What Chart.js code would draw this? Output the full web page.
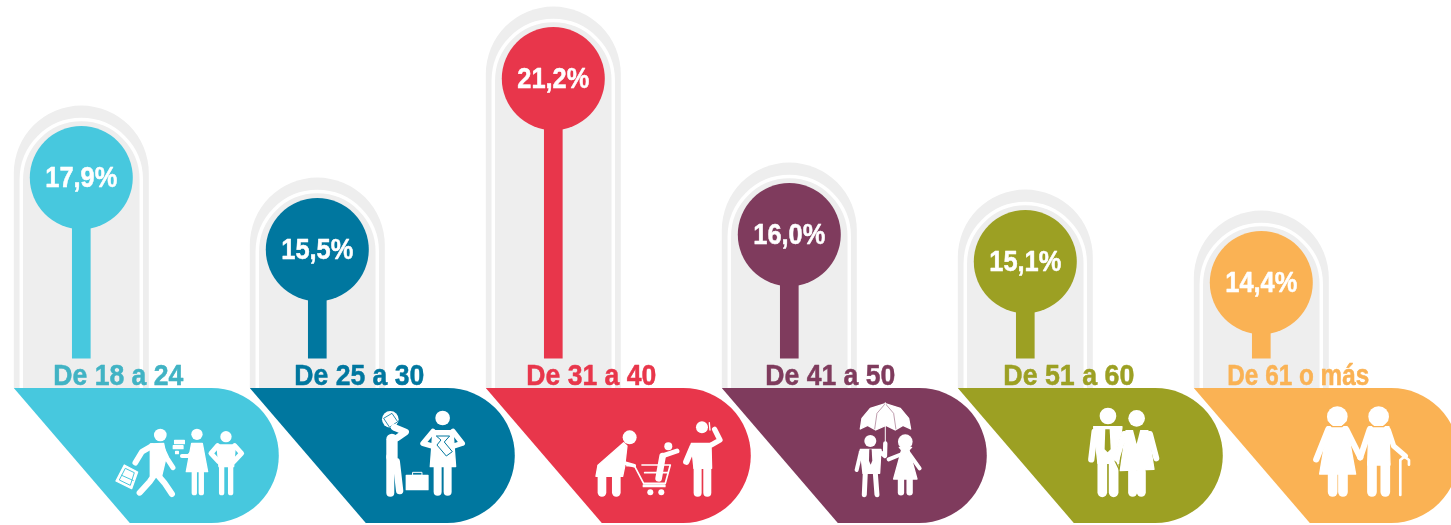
<!DOCTYPE html>
<html>
<head>
<meta charset="utf-8">
<style>
  html, body { margin: 0; padding: 0; background: #fff; }
  canvas { display: block; }
</style>
<script src="https://cdn.jsdelivr.net/npm/chart.js@4/dist/chart.umd.min.js"></script>
</head>
<body>
<canvas id="edades" width="1451" height="525"></canvas>
<script>
const categories = ['De 18 a 24', 'De 25 a 30', 'De 31 a 40', 'De 41 a 50', 'De 51 a 60', 'De 61 o más'];
const values = [17.9, 15.5, 21.2, 16.0, 15.1, 14.4];
const colors = ['#47c8de', '#00779f', '#e8364b', '#7f3b5d', '#9ca023', '#fab254'];
const labelColors = ['#41b3c4', '#00779f', '#e8364b', '#7f3b5d', '#9ca023', '#fab254'];

// layout of the decorations around each lollipop
const labelShift = [37, 42, 38, 41, 43.5, 37];
const labelWidth = [130, 130, 130, 130, 131, 142];
const iconShift = [-81, -67, -68, -69, -70, -71];
const stemBase = 11.88;
const bandTop = 388;
const bandBottom = 523;

// icon helpers, coordinates are in 3x units
function painter(ctx, bg) {
    const trace = (pts) => {
        ctx.beginPath();
        pts.forEach((p, i) => i ? ctx.lineTo(p[0], p[1]) : ctx.moveTo(p[0], p[1]));
    };
    return {
        head(x, y, r) {
            ctx.fillStyle = '#fff';
            ctx.beginPath();
            ctx.arc(x, y, r, 0, Math.PI * 2);
            ctx.fill();
        },
        limb(w, ...pts) {
            ctx.strokeStyle = '#fff';
            ctx.lineWidth = w;
            ctx.lineCap = 'round';
            ctx.lineJoin = 'round';
            trace(pts);
            ctx.stroke();
        },
        shape(...pts) {
            ctx.fillStyle = '#fff';
            ctx.strokeStyle = '#fff';
            ctx.lineWidth = 4;
            ctx.lineJoin = 'round';
            trace(pts);
            ctx.closePath();
            ctx.fill();
            ctx.stroke();
        },
        cut(...pts) {
            ctx.fillStyle = bg;
            trace(pts);
            ctx.closePath();
            ctx.fill();
        },
        line(w, ...pts) {
            ctx.strokeStyle = bg;
            ctx.lineWidth = w;
            ctx.lineCap = 'butt';
            ctx.lineJoin = 'miter';
            trace(pts);
            ctx.stroke();
        }
    };
}

const icons = [
    function (d, ctx) {
        // walker with backpack, woman with books, young man
        d.head(480, 255, 19);
        d.shape([450, 282], [490, 280], [498, 320], [484, 378], [450, 378]);
        d.limb(17, [455, 288], [425, 305], [405, 338]);
        d.limb(15, [486, 295], [500, 325], [518, 353]);
        d.limb(18, [462, 375], [448, 395], [418, 428]);
        d.limb(18, [472, 375], [492, 398], [515, 432]);
        d.shape([347, 393], [372, 345], [412, 366], [394, 416]);
        d.line(3, [357, 390], [375, 355], [402, 368], [390, 406], [357, 390]);
        d.line(3, [362, 375], [400, 392]);
        d.head(590, 253, 17);
        d.shape([574, 280], [606, 280], [622, 365], [558, 365]);
        d.limb(12, [578, 305], [565, 318], [545, 318]);
        d.limb(16, [582, 368], [582, 428]);
        d.limb(16, [603, 368], [603, 428]);
        d.shape([523, 271], [552, 271], [552, 281], [523, 281]);
        d.shape([519, 287], [548, 287], [548, 296], [519, 296]);
        d.shape([526, 304], [534, 304], [534, 311], [526, 311]);
        d.head(677, 260, 17);
        d.shape([650, 285], [705, 285], [700, 350], [656, 350]);
        d.limb(15, [652, 287], [632, 310], [655, 335]);
        d.limb(15, [703, 287], [724, 310], [700, 335]);
        d.limb(16, [664, 345], [664, 428]);
        d.limb(16, [691, 345], [691, 428]);
    },
    function (d, ctx) {
        // man with phone and suitcase, woman reading papers
        d.head(420, 208, 25);
        d.line(2.5, [400, 205], [425, 190], [442, 215], [418, 232], [400, 205]);
        d.limb(20, [432, 232], [466, 246], [440, 264]);
        d.limb(34, [425, 268], [425, 322]);
        d.limb(24, [420, 320], [420, 428]);
        d.limb(22, [438, 335], [448, 422]);
        d.shape([468, 376], [533, 376], [533, 419], [468, 419]);
        ctx.strokeStyle = '#fff';
        ctx.lineWidth = 3;
        ctx.strokeRect(488, 367, 27, 9);
        d.head(577, 204, 22);
        d.shape([548, 242], [608, 242], [616, 350], [540, 350]);
        d.limb(16, [548, 244], [518, 280], [570, 295]);
        d.limb(16, [608, 244], [636, 280], [590, 295]);
        d.limb(24, [562, 350], [562, 425]);
        d.limb(24, [592, 350], [592, 425]);
        d.line(3, [558, 258], [598, 258], [582, 276], [606, 305], [588, 318], [560, 285], [572, 270], [558, 258]);
    },
    function (d, ctx) {
        // woman pushing a cart with a child, man on the phone
        d.head(433, 262, 21);
        d.shape([415, 278], [425, 288], [418, 350], [412, 379], [332, 379], [338, 346], [356, 330]);
        d.limb(11, [418, 300], [405, 335], [447, 347]);
        d.limb(26, [350, 378], [350, 427]);
        d.limb(26, [393, 378], [393, 427]);
        d.limb(5, [425, 347], [447, 347], [475, 400], [540, 400], [555, 345], [470, 345]);
        d.limb(5, [478, 368], [548, 368]);
        d.shape([474, 405], [539, 405], [539, 410], [474, 410]);
        d.head(495, 427, 9);
        d.head(528, 427, 9);
        d.head(549, 289, 12);
        d.limb(20, [532, 318], [520, 385]);
        d.limb(15, [536, 316], [575, 303]);
        d.head(650, 232, 18);
        d.shape([618, 280], [677, 280], [679, 355], [626, 355]);
        d.limb(19, [622, 290], [603, 335]);
        d.limb(16, [678, 285], [704, 270], [688, 238]);
        d.limb(4, [672, 218], [674, 240]);
        d.limb(24, [637, 350], [637, 428]);
        d.limb(24, [666, 350], [666, 428]);
    },
    function (d, ctx) {
        // couple under an umbrella
        d.shape([420, 237], [425, 205], [450, 175], [495, 161], [540, 175], [565, 205], [571, 237], [548, 226], [525, 240], [497, 226], [466, 240], [442, 226]);
        d.line(1.5, [495, 161], [470, 190], [463, 238]);
        d.line(1.5, [495, 161], [520, 190], [527, 238]);
        d.limb(3, [495, 158], [495, 275]);
        d.head(450, 273, 18);
        d.shape([420, 298], [482, 298], [478, 370], [428, 370]);
        d.limb(12, [422, 305], [409, 360]);
        d.limb(13, [478, 305], [494, 318], [495, 280]);
        d.limb(15, [435, 368], [432, 434]);
        d.limb(15, [465, 368], [470, 434]);
        d.cut([447, 298], [454, 298], [456, 332], [451, 344], [446, 332]);
        d.head(555, 275, 22);
        d.shape([537, 292], [574, 292], [566, 300], [590, 387], [520, 387], [544, 300]);
        d.limb(12, [545, 312], [505, 328]);
        d.limb(12, [567, 312], [598, 355]);
        d.limb(19, [542, 385], [542, 427]);
        d.limb(19, [568, 385], [568, 427]);
    },
    function (d, ctx) {
        // older couple in formal clothes
        d.head(458, 198, 25);
        d.shape([415, 230], [500, 230], [490, 340], [428, 340]);
        d.limb(19, [418, 245], [408, 328]);
        d.limb(29, [441, 335], [441, 427]);
        d.limb(29, [475, 335], [475, 427]);
        d.cut([450, 238], [463, 238], [466, 298], [457, 307], [448, 298]);
        d.line(4, [504, 240], [478, 330], [495, 365]);
        d.shape([512, 242], [578, 242], [596, 358], [495, 362]);
        d.limb(18, [506, 252], [484, 326]);
        d.limb(18, [584, 252], [603, 325]);
        d.head(544, 205, 25);
        d.cut([532, 235], [556, 235], [544, 282]);
        d.limb(27, [532, 365], [532, 427]);
        d.limb(27, [558, 365], [558, 427]);
    },
    function (d, ctx) {
        // elderly couple holding hands, man with a cane
        d.shape([412, 230], [470, 230], [496, 372], [388, 372]);
        d.limb(19, [414, 238], [378, 328]);
        d.limb(18, [468, 238], [510, 322]);
        d.limb(29, [427, 372], [427, 426]);
        d.limb(29, [458, 372], [458, 426]);
        d.shape([536, 230], [596, 230], [599, 345], [532, 345]);
        d.limb(18, [538, 238], [510, 322]);
        d.limb(16, [594, 240], [610, 288], [645, 318]);
        d.limb(29, [545, 340], [545, 426]);
        d.limb(29, [585, 340], [585, 426]);
        d.limb(8, [630, 435], [630, 330], [642, 320], [656, 330], [656, 344]);
        d.head(441, 200, 31);
        d.head(565, 200, 31);
        d.line(4, [412, 216], [425, 230], [455, 230], [470, 216]);
        d.line(4, [536, 216], [549, 230], [580, 230], [594, 216]);
    }
];

function fitText(ctx, text, cx, baseline, width, size, color) {
    ctx.save();
    ctx.font = 'bold ' + size + 'px "Liberation Sans"';
    ctx.textAlign = 'center';
    ctx.textBaseline = 'alphabetic';
    ctx.fillStyle = color;
    ctx.strokeStyle = color;
    ctx.lineWidth = 0.5;
    ctx.lineJoin = 'round';
    const w = ctx.measureText(text).width;
    ctx.translate(cx, baseline);
    ctx.scale(width / w, 1);
    ctx.fillText(text, 0, 0);
    ctx.strokeText(text, 0, 0);
    ctx.restore();
}

const decorations = {
    id: 'decorations',
    beforeDatasetsDraw(chart) {
        const ctx = chart.ctx;
        const xs = chart.scales.x;
        const ys = chart.scales.y;
        values.forEach((v, i) => {
            const x = xs.getPixelForValue(i);
            const y = ys.getPixelForValue(v);
            // grey capsule behind the lollipop
            ctx.fillStyle = '#eeeeee';
            ctx.beginPath();
            ctx.arc(x, y - 4.5, 67.5, Math.PI, 0);
            ctx.lineTo(x + 67.5, bandTop);
            ctx.lineTo(x - 67.5, bandTop);
            ctx.closePath();
            ctx.fill();
            ctx.strokeStyle = '#fff';
            ctx.lineWidth = 3.5;
            ctx.beginPath();
            ctx.moveTo(x - 60, bandTop);
            ctx.arc(x, y + 2, 60, Math.PI, 0);
            ctx.lineTo(x + 60, bandTop);
            ctx.stroke();
        });
        values.forEach((v, i) => {
            // coloured band at the bottom
            const left = xs.getPixelForValue(i) - 67.5;
            const r = (bandBottom - bandTop) / 2;
            ctx.fillStyle = colors[i];
            ctx.beginPath();
            ctx.moveTo(left, bandTop);
            ctx.arc(left + 197.5, bandTop + r, r, -Math.PI / 2, Math.PI / 2);
            ctx.lineTo(left + 116, bandBottom);
            ctx.closePath();
            ctx.fill();
        });
    },
    afterDatasetsDraw(chart) {
        const ctx = chart.ctx;
        const xs = chart.scales.x;
        const ys = chart.scales.y;
        values.forEach((v, i) => {
            const x = xs.getPixelForValue(i);
            const y = ys.getPixelForValue(v);
            const txt = v.toFixed(1).replace('.', ',') + '%';
            fitText(ctx, txt, x, y + 9, 72, 29, '#fff');
            fitText(ctx, categories[i], x + labelShift[i], 385, labelWidth[i], 30, labelColors[i]);
            ctx.save();
            ctx.translate(x + iconShift[i], 350);
            ctx.scale(1 / 3, 1 / 3);
            icons[i](painter(ctx, colors[i]), ctx);
            ctx.restore();
        });
    }
};

new Chart(document.getElementById('edades'), {
    data: {
        labels: categories,
        datasets: [
            {
                type: 'line',
                data: values,
                showLine: false,
                pointRadius: 51.5,
                pointHoverRadius: 51.5,
                pointBorderWidth: 0,
                pointBackgroundColor: colors,
                clip: false,
                order: 1
            },
            {
                type: 'bar',
                data: values,
                base: stemBase,
                barThickness: 18,
                backgroundColor: colors,
                clip: false,
                order: 2
            }
        ]
    },
    options: {
        responsive: false,
        animation: false,
        events: [],
        layout: { autoPadding: false, padding: { left: 81.3, right: 189.7, top: 0, bottom: 0 } },
        plugins: { legend: { display: false }, tooltip: { enabled: false } },
        scales: {
            x: { type: 'category', offset: false, display: false },
            y: { type: 'linear', min: 6.32, max: 23.82, display: false }
        }
    },
    plugins: [decorations]
});
</script>
</body>
</html>
